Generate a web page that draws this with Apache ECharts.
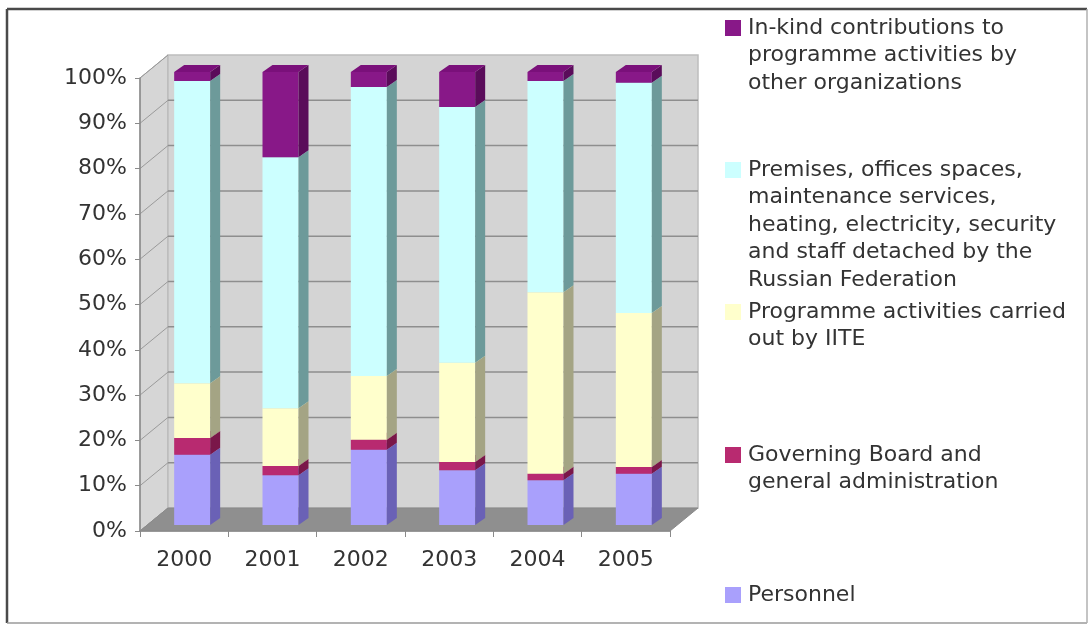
<!DOCTYPE html>
<html>
<head>
<meta charset="utf-8">
<script src="https://cdn.jsdelivr.net/npm/echarts@6/dist/echarts.min.js"></script>
<style>
  html, body { margin: 0; padding: 0; background: #ffffff; }
  #chart { width: 1090px; height: 626px; }
</style>
</head>
<body>
<div id="chart"></div>
<script>
// Yearly breakdown of resources, in percent of the total (stacked bottom to top)
const categories = ['2000', '2001', '2002', '2003', '2004', '2005'];
const personnel  = [15.5, 11.0, 16.6, 12.1, 9.9, 11.3];
const governing  = [3.7, 2.0, 2.2, 1.8, 1.4, 1.5];
const programme  = [12.1, 12.8, 14.1, 21.9, 40.1, 34.0];
const premises   = [66.7, 55.4, 63.8, 56.5, 46.6, 50.8];
const inKind     = [2.0, 18.8, 3.3, 7.7, 2.0, 2.4];

const seriesNames = [
  'Personnel',
  'Governing Board and general administration',
  'Programme activities carried out by IITE',
  'Premises, offices spaces, maintenance services, heating, electricity, security and staff detached by the Russian Federation',
  'In-kind contributions to programme activities by other organizations'
];
// Wrapped legend captions, same order as seriesNames
const legendLines = [
  ['Personnel'],
  ['Governing Board and', 'general administration'],
  ['Programme activities carried', 'out by IITE'],
  ['Premises, offices spaces,', 'maintenance services,', 'heating, electricity, security', 'and staff detached by the', 'Russian Federation'],
  ['In-kind contributions to', 'programme activities by', 'other organizations']
];
const yTickValues = [0, 10, 20, 30, 40, 50, 60, 70, 80, 90, 100];

const seriesValues = [personnel, governing, programme, premises, inKind];

// Face colours: front, side, top
const palette = [
  { front: '#a9a0fc', side: '#6a61b6', top: '#8c83e2' },
  { front: '#b82a70', side: '#7a1749', top: '#961f5c' },
  { front: '#ffffcc', side: '#a4a484', top: '#e2e2b2' },
  { front: '#ccffff', side: '#6d9a9a', top: '#a9dede' },
  { front: '#881888', side: '#5a0c5a', top: '#7a107a' }
];

// Depth of the whole plot box and of the bars (pixels)
const WALL_DX = 28, WALL_DY = -23;
const BAR_OX = 8, BAR_OY = -6;
const BAR_DX = 10, BAR_DY = -7;
const BAR_HALF = 18;

const FONT = '"DejaVu Sans", Verdana, sans-serif';
const TEXT_COLOR = '#333333';

function renderFrame(params, api) {
  const band = api.size([1, 0])[0];
  const n = categories.length;
  const x0 = api.coord([0, 0])[0] - band / 2;
  const x1 = api.coord([n - 1, 0])[0] + band / 2;
  const y0 = api.coord([0, 0])[1];
  const yTop = api.coord([0, 100])[1];
  const children = [];
  // left side wall
  children.push({
    type: 'polygon',
    shape: { points: [[x0, y0], [x0 + WALL_DX, y0 + WALL_DY], [x0 + WALL_DX, yTop + WALL_DY], [x0, yTop]] },
    style: { fill: '#d6d6d6', stroke: '#a8a8a8', lineWidth: 1 }
  });
  // back wall
  children.push({
    type: 'rect',
    shape: { x: x0 + WALL_DX, y: yTop + WALL_DY, width: x1 - x0, height: y0 - yTop },
    style: { fill: '#d4d4d4', stroke: '#bdbdbd', lineWidth: 1.5 }
  });
  // grid lines on back and side walls
  yTickValues.forEach(function (v) {
    const y = api.coord([0, v])[1];
    if (v > 0 && v < 100) {
      children.push({
        type: 'line',
        shape: { x1: x0 + WALL_DX, y1: y + WALL_DY, x2: x1 + WALL_DX, y2: y + WALL_DY },
        style: { stroke: '#8e8e8e', lineWidth: 1.5 }
      });
    }
    children.push({
      type: 'line',
      shape: { x1: x0, y1: y, x2: x0 + WALL_DX, y2: y + WALL_DY },
      style: { stroke: '#9a9a9a', lineWidth: 1 }
    });
  });
  // floor
  children.push({
    type: 'polygon',
    shape: { points: [[x0, y0], [x1, y0], [x1 + WALL_DX, y0 + WALL_DY], [x0 + WALL_DX, y0 + WALL_DY]] },
    style: { fill: '#8f8f8f', stroke: '#8a8a8a', lineWidth: 1 }
  });
  return { type: 'group', children: children };
}

function makeBarRenderer(colors) {
  return function (params, api) {
    const i = api.value(0);
    const pb = api.coord([i, api.value(1)]);
    const pt = api.coord([i, api.value(2)]);
    const xl = pb[0] - BAR_HALF + BAR_OX;
    const xr = pb[0] + BAR_HALF + BAR_OX;
    const yb = pb[1] + BAR_OY;
    const yt = pt[1] + BAR_OY;
    return {
      type: 'group',
      children: [
        {
          type: 'rect',
          shape: { x: xl, y: yt, width: xr - xl, height: yb - yt },
          style: { fill: colors.front }
        },
        {
          type: 'polygon',
          shape: { points: [[xr, yt], [xr + BAR_DX, yt + BAR_DY], [xr + BAR_DX, yb + BAR_DY], [xr, yb]] },
          style: { fill: colors.side }
        },
        {
          type: 'polygon',
          shape: { points: [[xl, yt], [xr, yt], [xr + BAR_DX, yt + BAR_DY], [xl + BAR_DX, yt + BAR_DY]] },
          style: { fill: colors.top }
        }
      ]
    };
  };
}

// cumulative stacking
const running = categories.map(function () { return 0; });
const barSeries = seriesValues.map(function (values, k) {
  const data = values.map(function (v, i) {
    const base = running[i];
    running[i] = base + v;
    return [i, base, base + v];
  });
  return {
    type: 'custom',
    name: seriesNames[k],
    z: 3 + k,
    renderItem: makeBarRenderer(palette[k]),
    encode: { x: 0, y: [1, 2] },
    data: data
  };
});

// legend, drawn top to bottom from the top of the stack down
const legendCenters = [595, 455, 312, 170, 28];
const legendGraphics = [];
for (let k = seriesNames.length - 1; k >= 0; k--) {
  const yc = legendCenters[k];
  legendGraphics.push({
    type: 'rect',
    shape: { x: 725, y: yc - 8, width: 16, height: 16 },
    style: { fill: palette[k].front }
  });
  legendGraphics.push({
    type: 'text',
    x: 748,
    y: yc - 13.75,
    style: {
      text: legendLines[k].join('\n'),
      font: '22px ' + FONT,
      fill: TEXT_COLOR,
      lineHeight: 27.5,
      verticalAlign: 'top',
      align: 'left'
    }
  });
}

// outer frame
const frameGraphics = [
  { type: 'line', shape: { x1: 7, y1: 9, x2: 1087, y2: 9 }, style: { stroke: '#4a4a4a', lineWidth: 2.5 } },
  { type: 'line', shape: { x1: 7, y1: 9, x2: 7, y2: 623 }, style: { stroke: '#4a4a4a', lineWidth: 2.5 } },
  { type: 'line', shape: { x1: 7, y1: 623, x2: 1087, y2: 623 }, style: { stroke: '#9a9a9a', lineWidth: 1.5 } },
  { type: 'line', shape: { x1: 1087, y1: 9, x2: 1087, y2: 623 }, style: { stroke: '#b0b0b0', lineWidth: 1.5 } }
];

const chart = echarts.init(document.getElementById('chart'), null, { renderer: 'canvas' });
chart.setOption({
  backgroundColor: '#ffffff',
  animation: false,
  grid: { left: 140, right: 420, top: 78, bottom: 95 },
  xAxis: {
    type: 'category',
    data: categories,
    z: 10,
    axisLine: { show: true, lineStyle: { color: '#8a8a8a', width: 1.5 } },
    axisTick: { show: true, length: 6, lineStyle: { color: '#8a8a8a' } },
    axisLabel: { margin: 18, fontSize: 22, fontFamily: FONT, color: TEXT_COLOR },
    splitLine: { show: false }
  },
  yAxis: {
    type: 'value',
    min: 0,
    max: 100,
    interval: 10,
    z: 10,
    axisLine: { show: true, lineStyle: { color: '#8a8a8a', width: 1.5 } },
    axisTick: { show: true, length: 5, lineStyle: { color: '#8a8a8a' } },
    axisLabel: { margin: 13, fontSize: 22, fontFamily: FONT, color: TEXT_COLOR, formatter: '{value}%' },
    splitLine: { show: false }
  },
  series: [
    {
      type: 'custom',
      name: 'frame',
      z: 1,
      silent: true,
      renderItem: renderFrame,
      encode: { x: 0, y: 1 },
      data: [[0, 0]]
    }
  ].concat(barSeries),
  graphic: frameGraphics.concat(legendGraphics)
});
</script>
</body>
</html>
